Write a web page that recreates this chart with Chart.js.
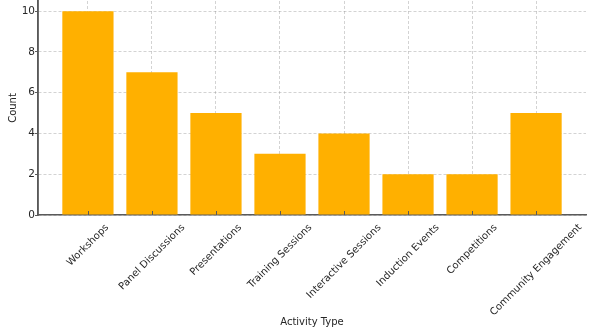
<!DOCTYPE html>
<html>
<head>
<meta charset="utf-8">
<script src="https://cdn.jsdelivr.net/npm/chart.js@4/dist/chart.umd.min.js"></script>
<style>
  html, body { margin: 0; padding: 0; background: #fff; }
  #wrap { width: 600px; height: 336px; }
</style>
</head>
<body>
<div id="wrap"><canvas id="c" width="600" height="336"></canvas></div>
<script>
// Activity counts by type
const categories = [
  "Workshops", "Panel Discussions", "Presentations", "Training Sessions",
  "Interactive Sessions", "Induction Events", "Competitions", "Community Engagement"
];
const counts = [10, 7, 5, 3, 4, 2, 2, 5];
const yTicks = [0, 2, 4, 6, 8, 10];

const FONT = "'DejaVu Sans', sans-serif";
const TEXT = "#262626";
const SPINE = "#5a5a5a";
const GRID = "rgba(128,128,128,0.35)";

// Left spine, inward x tick marks and rotated category labels centred under each tick
const axisDecor = {
  id: "axisDecor",
  afterDraw(chart) {
    const ctx = chart.ctx;
    const xs = chart.scales.x;
    const area = chart.chartArea;
    const base = area.bottom;
    ctx.save();
    ctx.strokeStyle = SPINE;
    ctx.lineWidth = 1.5;
    ctx.beginPath();
    ctx.moveTo(area.left, 0);
    ctx.lineTo(area.left, base + 0.75);
    ctx.stroke();
    ctx.lineWidth = 1;
    categories.forEach((_, i) => {
      const px = Math.round(xs.getPixelForValue(i)) + 0.5;
      ctx.beginPath();
      ctx.moveTo(px, base);
      ctx.lineTo(px, base - 4);
      ctx.stroke();
    });
    ctx.font = "10px " + FONT;
    ctx.fillStyle = TEXT;
    ctx.textAlign = "center";
    ctx.textBaseline = "middle";
    const s = Math.SQRT1_2;
    categories.forEach((label, i) => {
      const px = xs.getPixelForValue(i);
      const w = ctx.measureText(label).width;
      const h = (w + 11) * s;
      ctx.save();
      ctx.translate(px, base + 7 + h / 2);
      ctx.rotate(-Math.PI / 4);
      ctx.fillText(label, 0, 0);
      ctx.restore();
    });
    ctx.restore();
  }
};

new Chart(document.getElementById("c"), {
  type: "bar",
  data: {
    datasets: [{
      data: counts.map((v, i) => ({ x: i, y: v })),
      backgroundColor: "#FFB000",
      borderWidth: 0,
      barPercentage: 1.0,
      categoryPercentage: 0.8
    }]
  },
  options: {
    responsive: false,
    animation: false,
    layout: { padding: { top: 1, right: 14, bottom: 0, left: 0 } },
    plugins: { legend: { display: false }, tooltip: { enabled: false } },
    scales: {
      x: {
        type: "linear",
        offset: false,
        min: -0.78,
        max: categories.length - 1 + 0.78,
        z: 1,
        afterBuildTicks(scale) {
          scale.ticks = categories.map((_, i) => ({ value: i }));
        },
        afterFit(scale) {
          scale.height = 121;
          scale.paddingLeft = 0;
          scale.paddingRight = 0;
        },
        ticks: { display: false },
        grid: {
          offset: false,
          color: GRID,
          lineWidth: 1,
          drawTicks: false
        },
        border: { display: true, color: SPINE, width: 1.5, dash: [3, 2] },
        title: {
          display: true,
          text: "Activity Type",
          color: TEXT,
          font: { family: FONT, size: 10 },
          padding: { top: 0, bottom: 8 }
        }
      },
      y: {
        min: 0,
        max: 10.5,
        z: 1,
        afterBuildTicks(scale) {
          scale.ticks = yTicks.map(v => ({ value: v }));
        },
        afterFit(scale) {
          scale.width = 38;
          scale.paddingTop = 0;
          scale.paddingBottom = 0;
        },
        ticks: {
          color: TEXT,
          font: { family: FONT, size: 10.5 },
          padding: 0
        },
        grid: {
          color: GRID,
          lineWidth: 1,
          drawTicks: true,
          tickLength: 3,
          tickColor: SPINE,
          tickWidth: 1
        },
        border: { display: true, color: SPINE, width: 1.5, dash: [3, 2] },
        title: {
          display: true,
          text: "Count",
          color: TEXT,
          font: { family: FONT, size: 10 },
          padding: { top: 7, bottom: 0 }
        }
      }
    }
  },
  plugins: [axisDecor]
});
</script>
</body>
</html>
